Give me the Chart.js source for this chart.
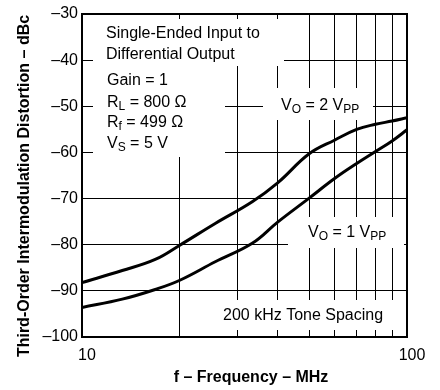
<!DOCTYPE html>
<html>
<head>
<meta charset="utf-8">
<script src="https://cdn.jsdelivr.net/npm/chart.js@4"></script>
<style>
  body { margin: 0; background: #fff; }
  #wrap { width: 440px; height: 390px; }
</style>
</head>
<body>
<div id="wrap"><canvas id="grafico"></canvas></div>
<script>
// valores (MHz / dBc)
const freqMHz = [10, 13.3, 16.8, 20, 25.7, 33.4, 40, 50, 60, 70, 80, 90, 100];
const imd2Vpp = [-88.2, -85.6, -83.2, -80.1, -75.4, -70.7, -66.6, -60.3, -57.3, -55.0, -53.9, -53.2, -52.5];
const imd1Vpp = [-93.6, -91.8, -89.7, -87.7, -83.7, -79.7, -75.1, -69.9, -65.6, -62.4, -59.8, -57.5, -55.1];
const xTicks = [10, 20, 30, 40, 50, 60, 70, 80, 90, 100];
const xTickLabels = [10, 100];
const yTickLabels = [-100, -90, -80, -70, -60, -50, -40, -30];

const FONT = "'Liberation Sans', Arial, Helvetica, sans-serif";

function pontos(ys) {
    return freqMHz.map((f, i) => ({ x: f, y: ys[i] }));
}

// caixas brancas que escondem a grade atrás dos textos (pixels)
const caixas = [
    [93, 19, 284, 66],
    [93, 62, 225, 157],
    [263, 88, 373, 120],
    [288, 217, 404, 248],
    [190, 300, 404, 330]
];

// textos: cada linha é uma lista de pedaços [texto, subscrito?]
const textos = [
    { x: 106, y: 37.5, parts: [['Single-Ended Input to']] },
    { x: 106, y: 58.5, parts: [['Differential Output']] },
    { x: 107, y: 85, parts: [['Gain = 1']] },
    { x: 107, y: 106.5, parts: [['R'], ['L', true], [' = 800 Ω']] },
    { x: 107, y: 127, parts: [['R'], ['f', true], [' = 499 Ω']] },
    { x: 107, y: 148, parts: [['V'], ['S', true], [' = 5 V']] },
    { x: 281, y: 110, parts: [['V'], ['O', true], [' = 2 V'], ['PP', true]] },
    { x: 308, y: 236.5, parts: [['V'], ['O', true], [' = 1 V'], ['PP', true]] },
    { x: 223, y: 320, parts: [['200 kHz Tone Spacing']] }
];

const anotacoes = {
    id: 'anotacoes',
    beforeDatasetsDraw(chart) {
        const ctx = chart.ctx;
        ctx.save();
        ctx.fillStyle = '#fff';
        caixas.forEach(c => ctx.fillRect(c[0], c[1], c[2] - c[0], c[3] - c[1]));
        ctx.fillStyle = '#000';
        ctx.textBaseline = 'alphabetic';
        ctx.textAlign = 'left';
        textos.forEach(t => {
            let x = t.x;
            t.parts.forEach(p => {
                ctx.font = (p[1] ? '12px ' : '16px ') + FONT;
                ctx.fillText(p[0], x, t.y + (p[1] ? 3 : 0));
                x += ctx.measureText(p[0]).width;
            });
        });
        ctx.restore();
    },
    afterDraw(chart) {
        const ctx = chart.ctx;
        const a = chart.chartArea;
        ctx.save();
        ctx.strokeStyle = '#000';
        ctx.lineWidth = 2;
        ctx.strokeRect(a.left, a.top, a.right - a.left, a.bottom - a.top);
        ctx.fillStyle = '#000';
        ctx.font = 'bold 16px ' + FONT;
        ctx.textAlign = 'center';
        ctx.textBaseline = 'middle';
        ctx.fillText('f – Frequency – MHz', 251, 378);
        ctx.translate(25, 186);
        ctx.rotate(-Math.PI / 2);
        ctx.fillText('Third-Order Intermodulation Distortion – dBc', 0, 0);
        ctx.restore();
    }
};

new Chart(document.getElementById('grafico'), {
    type: 'line',
    data: {
        datasets: [{
            label: 'VO = 2 VPP',
            data: pontos(imd2Vpp),
            borderColor: '#000',
            borderWidth: 3,
            pointRadius: 0,
            tension: 0.4
        }, {
            label: 'VO = 1 VPP',
            data: pontos(imd1Vpp),
            borderColor: '#000',
            borderWidth: 3,
            pointRadius: 0,
            tension: 0.4
        }]
    },
    options: {
        responsive: true,
        maintainAspectRatio: false,
        animation: false,
        layout: { padding: { top: 14, right: 33, left: 0, bottom: 0 } },
        plugins: {
            legend: { display: false },
            tooltip: { enabled: false }
        },
        scales: {
            x: {
                type: 'logarithmic',
                min: 10,
                max: 100,
                afterFit: s => { s.height = 53; },
                afterBuildTicks: s => { s.ticks = xTicks.map(v => ({ value: v })); },
                border: { display: false },
                grid: { color: '#000', lineWidth: 1, drawTicks: false },
                ticks: {
                    color: '#000',
                    font: { family: FONT, size: 16 },
                    padding: 9,
                    labelOffset: 5,
                    maxRotation: 0,
                    autoSkip: false,
                    callback: v => xTickLabels.includes(v) ? String(v) : ''
                }
            },
            y: {
                min: -100,
                max: -30,
                afterFit: s => { s.width = 82; },
                border: { display: false },
                grid: { color: '#000', lineWidth: 1, drawTicks: false },
                ticks: {
                    stepSize: 10,
                    color: '#000',
                    font: { family: FONT, size: 16 },
                    padding: 4,
                    callback: v => yTickLabels.includes(v) ? String(v).replace('-', '–') : ''
                }
            }
        }
    },
    plugins: [anotacoes]
});
</script>
</body>
</html>
